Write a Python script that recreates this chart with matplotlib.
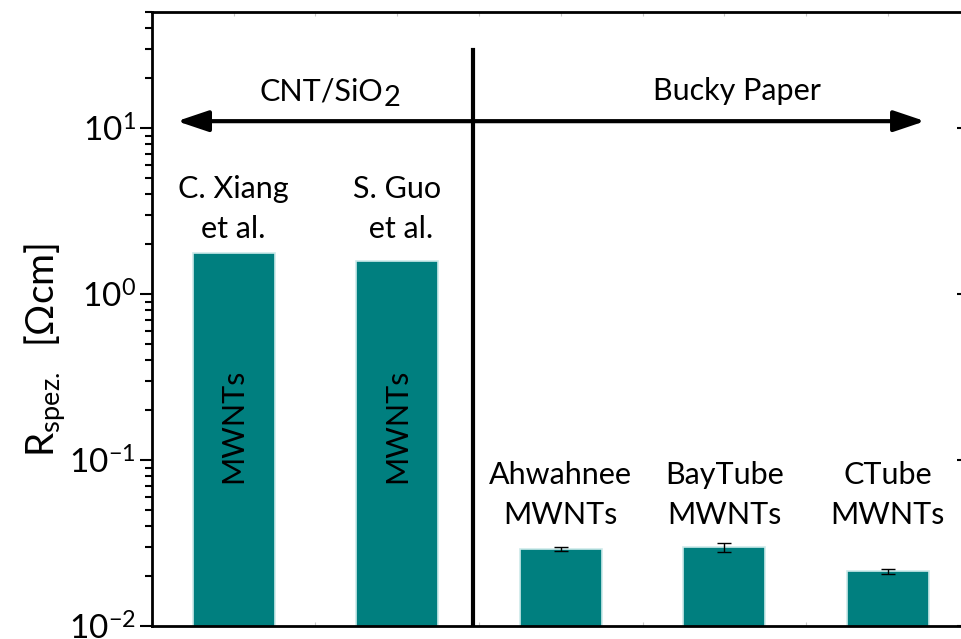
import matplotlib
matplotlib.use("Agg")
import matplotlib.pyplot as plt
import numpy as np
from matplotlib.ticker import LogLocator, LogFormatterSciNotation, NullFormatter, FixedLocator

# resistivity of the CNT samples
labels = ["C. Xiang\net al.", "S. Guo\n et al.", "Ahwahnee\nMWNTs", "BayTube\nMWNTs", "CTube\nMWNTs"]
resistivity = [1.77, 1.58, 0.0291, 0.0299, 0.0214]
resistivity_err = [0.0, 0.0, 0.0007, 0.0019, 0.0007]
inside_labels = ["MWNTs", "MWNTs", "", "", ""]
group_names = ["CNT/SiO", "Bucky Paper"]

plt.rcParams["font.family"] = ["Lato", "DejaVu Sans"]
plt.rcParams["mathtext.fontset"] = "custom"
plt.rcParams["mathtext.rm"] = "Lato"
plt.rcParams["mathtext.it"] = "Lato:italic"
plt.rcParams["mathtext.bf"] = "Lato:bold"

BAR = "#007f7f"
FS = 22

fig = plt.figure(figsize=(9.62, 6.39), dpi=100)
ax = fig.add_axes([0.158, 0.0203, 0.8498, 0.9609])

x = np.arange(1, len(labels) + 1)
ax.bar(x, resistivity, width=0.5, color=BAR, edgecolor="#cdeaea", linewidth=1.2, zorder=2)

# error bars only where a spread was measured
has_err = np.array(resistivity_err) > 0
ax.errorbar(x[has_err], np.array(resistivity)[has_err], yerr=np.array(resistivity_err)[has_err],
            fmt="none", ecolor="black", elinewidth=1, capsize=5, capthick=1, zorder=3)

ax.set_yscale("log")
ax.set_ylim(0.01, 50)
ax.set_xlim(0.5, 5.5)

# labels above / inside the bars
for i, lab in enumerate(labels):
    yl = 3.25 if i < 2 else 0.0615
    ax.text(x[i], yl, lab, ha="center", va="center", fontsize=FS, linespacing=1.5)
    if inside_labels[i]:
        ax.text(x[i], 0.16, inside_labels[i], ha="center", va="center",
                rotation=90, fontsize=FS)

# group captions; the "2" of SiO2 is set lowered at nearly full size
ax.text(1.913, 14.75, group_names[0], ha="right", va="baseline", fontsize=FS)
ax.annotate("2", xy=(1.913, 14.75), xytext=(0.5, -4), textcoords="offset points",
            ha="left", va="baseline", fontsize=FS * 0.95)
ax.text(4.08, 14.75, group_names[1], ha="center", va="baseline", fontsize=FS)

# double arrow and divider
ax.annotate("", xy=(0.653, 11.0), xytext=(5.228, 11.0),
            arrowprops=dict(arrowstyle="<|-|>,head_length=0.95,head_width=0.32",
                            mutation_scale=20, lw=3, color="black",
                            shrinkA=0, shrinkB=0), zorder=4)
ax.axvline(2.463, ymin=0, ymax=0.938, color="black", lw=3, zorder=5)

# axes styling
for side in ["left", "bottom", "top", "right"]:
    ax.spines[side].set_linewidth(2)
ax.yaxis.set_major_locator(LogLocator(base=10, numticks=10))
ax.yaxis.set_minor_locator(LogLocator(base=10, subs=np.arange(2, 10), numticks=10))
ax.yaxis.set_major_formatter(LogFormatterSciNotation())
ax.yaxis.set_minor_formatter(NullFormatter())
ax.tick_params(axis="y", which="major", direction="out", length=8.6, width=1.5,
               labelsize=24, pad=3, right=False)
ax.tick_params(axis="y", which="minor", direction="out", length=5, width=1.5, right=False)

ax.xaxis.set_major_locator(FixedLocator(x))
ax.xaxis.set_minor_locator(FixedLocator(x[:-1] + 0.5))
ax.tick_params(axis="x", which="both", direction="in", length=3, width=0.8,
               color="#c8c8c8", labelbottom=False, top=True)

# mirrored ticks on the right side, pointing inward
axr = ax.twinx()
axr.set_yscale("log")
axr.set_ylim(ax.get_ylim())
axr.yaxis.set_major_locator(LogLocator(base=10, numticks=10))
axr.yaxis.set_minor_locator(LogLocator(base=10, subs=np.arange(2, 10), numticks=10))
axr.tick_params(axis="y", which="major", direction="in", length=9.4, width=1.5, labelright=False)
axr.tick_params(axis="y", which="minor", direction="in", length=5, width=1.0, color="#bbbbbb",
                labelright=False)
axr.yaxis.set_minor_formatter(NullFormatter())
for side in ["left", "bottom", "top", "right"]:
    axr.spines[side].set_visible(False)

fig.text(0.047, 1 - 350 / 639, r"R$_{\mathregular{spez.}}$  [$\mathregular{\Omega}$cm]",
         rotation=90, ha="center", va="center", fontsize=28)

fig.savefig("out.png", dpi=100)
